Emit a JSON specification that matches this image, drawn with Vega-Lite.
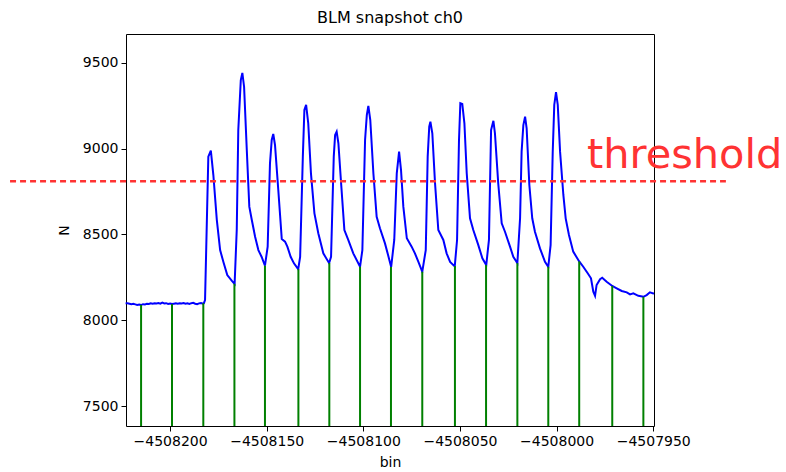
{
  "$schema": "https://vega.github.io/schema/vega-lite/v6.json",
  "width": 528,
  "height": 392,
  "autosize": {"type": "none"},
  "padding": {"left": 126, "top": 34, "right": 132, "bottom": 46},
  "background": "white",
  "title": {"text": "BLM snapshot ch0", "font": "DejaVu Sans", "fontSize": 16, "fontWeight": "normal", "color": "black", "offset": 8},
  "config": {
    "font": "DejaVu Sans",
    "view": {"stroke": "black", "strokeWidth": 1},
    "axis": {
      "domain": false,
      "grid": false,
      "labelFont": "DejaVu Sans",
      "labelFontSize": 14,
      "labelColor": "black",
      "tickColor": "black",
      "tickSize": 5,
      "tickWidth": 1,
      "labelPadding": 3,
      "titleFont": "DejaVu Sans",
      "titleFontSize": 14,
      "titleFontWeight": "normal",
      "titleColor": "black",
      "labelOverlap": false,
      "labelFlush": false
    }
  },
  "datasets": {
    "signal": [
      {"bin": -4508223, "N": 8100}, {"bin": -4508222, "N": 8099}, {"bin": -4508221, "N": 8097}, {"bin": -4508220, "N": 8094},
      {"bin": -4508219, "N": 8096}, {"bin": -4508218, "N": 8093}, {"bin": -4508217, "N": 8090}, {"bin": -4508216, "N": 8092},
      {"bin": -4508215, "N": 8089}, {"bin": -4508214, "N": 8094}, {"bin": -4508213, "N": 8093}, {"bin": -4508212, "N": 8096},
      {"bin": -4508211, "N": 8095}, {"bin": -4508210, "N": 8099}, {"bin": -4508209, "N": 8097}, {"bin": -4508208, "N": 8100},
      {"bin": -4508207, "N": 8098}, {"bin": -4508206, "N": 8101}, {"bin": -4508205, "N": 8097}, {"bin": -4508204, "N": 8103},
      {"bin": -4508203, "N": 8098}, {"bin": -4508202, "N": 8100}, {"bin": -4508201, "N": 8096}, {"bin": -4508200, "N": 8098},
      {"bin": -4508199, "N": 8095}, {"bin": -4508198, "N": 8097}, {"bin": -4508197, "N": 8099}, {"bin": -4508196, "N": 8097},
      {"bin": -4508195, "N": 8100}, {"bin": -4508194, "N": 8098}, {"bin": -4508193, "N": 8101}, {"bin": -4508192, "N": 8097},
      {"bin": -4508191, "N": 8099}, {"bin": -4508190, "N": 8096}, {"bin": -4508189, "N": 8100}, {"bin": -4508188, "N": 8102},
      {"bin": -4508187, "N": 8097}, {"bin": -4508186, "N": 8094}, {"bin": -4508185, "N": 8099}, {"bin": -4508184, "N": 8101},
      {"bin": -4508183, "N": 8097}, {"bin": -4508182.5, "N": 8100},
      {"bin": -4508181.9, "N": 8118}, {"bin": -4508180.2, "N": 8953}, {"bin": -4508178.9, "N": 8988}, {"bin": -4508177.6, "N": 8846},
      {"bin": -4508175.8, "N": 8584}, {"bin": -4508174.1, "N": 8409}, {"bin": -4508172.4, "N": 8340}, {"bin": -4508170.4, "N": 8264},
      {"bin": -4508168.1, "N": 8231}, {"bin": -4508166.6, "N": 8212},
      {"bin": -4508165.5, "N": 8526}, {"bin": -4508164.7, "N": 9108}, {"bin": -4508163.4, "N": 9399}, {"bin": -4508162.6, "N": 9440},
      {"bin": -4508161.7, "N": 9360}, {"bin": -4508160.3, "N": 8992}, {"bin": -4508159.0, "N": 8662}, {"bin": -4508157.7, "N": 8584},
      {"bin": -4508156.0, "N": 8487}, {"bin": -4508154.3, "N": 8409}, {"bin": -4508152.6, "N": 8369}, {"bin": -4508150.9, "N": 8318},
      {"bin": -4508149.5, "N": 8429}, {"bin": -4508148.3, "N": 8914}, {"bin": -4508147.4, "N": 9050}, {"bin": -4508146.6, "N": 9085},
      {"bin": -4508145.7, "N": 9021}, {"bin": -4508144.0, "N": 8759}, {"bin": -4508142.2, "N": 8473}, {"bin": -4508140.5, "N": 8458},
      {"bin": -4508139.3, "N": 8429}, {"bin": -4508137.6, "N": 8370}, {"bin": -4508135.9, "N": 8332}, {"bin": -4508133.7, "N": 8298},
      {"bin": -4508132.7, "N": 8370}, {"bin": -4508131.3, "N": 8953}, {"bin": -4508130.5, "N": 9225}, {"bin": -4508129.6, "N": 9254},
      {"bin": -4508128.5, "N": 9147}, {"bin": -4508127.1, "N": 8856}, {"bin": -4508125.3, "N": 8623}, {"bin": -4508123.3, "N": 8507},
      {"bin": -4508120.7, "N": 8390}, {"bin": -4508117.7, "N": 8333},
      {"bin": -4508116.7, "N": 8370}, {"bin": -4508115.3, "N": 8953}, {"bin": -4508114.6, "N": 9079}, {"bin": -4508113.8, "N": 9098},
      {"bin": -4508112.9, "N": 9031}, {"bin": -4508111.5, "N": 8798}, {"bin": -4508109.8, "N": 8526}, {"bin": -4508107.8, "N": 8468},
      {"bin": -4508105.2, "N": 8390}, {"bin": -4508101.7, "N": 8312},
      {"bin": -4508100.5, "N": 8409}, {"bin": -4508099.1, "N": 9050}, {"bin": -4508098.2, "N": 9195}, {"bin": -4508097.4, "N": 9248},
      {"bin": -4508096.4, "N": 9166}, {"bin": -4508094.8, "N": 8856}, {"bin": -4508093.1, "N": 8603}, {"bin": -4508091.4, "N": 8536},
      {"bin": -4508088.8, "N": 8448}, {"bin": -4508087.2, "N": 8380}, {"bin": -4508085.6, "N": 8311},
      {"bin": -4508084.0, "N": 8468}, {"bin": -4508082.7, "N": 8856}, {"bin": -4508081.5, "N": 8982}, {"bin": -4508080.5, "N": 8875},
      {"bin": -4508079.3, "N": 8662}, {"bin": -4508077.5, "N": 8478}, {"bin": -4508075.0, "N": 8429}, {"bin": -4508073.3, "N": 8390},
      {"bin": -4508071.5, "N": 8341}, {"bin": -4508069.5, "N": 8283},
      {"bin": -4508067.7, "N": 8409}, {"bin": -4508066.7, "N": 8953}, {"bin": -4508065.9, "N": 9127}, {"bin": -4508065.3, "N": 9156},
      {"bin": -4508064.3, "N": 9089}, {"bin": -4508062.9, "N": 8798}, {"bin": -4508061.2, "N": 8526}, {"bin": -4508058.6, "N": 8468},
      {"bin": -4508056.9, "N": 8390}, {"bin": -4508055.1, "N": 8340}, {"bin": -4508052.7, "N": 8314},
      {"bin": -4508051.5, "N": 8468}, {"bin": -4508050.5, "N": 9050}, {"bin": -4508049.8, "N": 9264}, {"bin": -4508048.8, "N": 9260},
      {"bin": -4508047.7, "N": 9147}, {"bin": -4508046.5, "N": 8856}, {"bin": -4508044.8, "N": 8594}, {"bin": -4508043.1, "N": 8526},
      {"bin": -4508040.5, "N": 8438}, {"bin": -4508038.4, "N": 8361}, {"bin": -4508036.4, "N": 8322},
      {"bin": -4508035.0, "N": 8468}, {"bin": -4508033.9, "N": 9108}, {"bin": -4508032.7, "N": 9162}, {"bin": -4508031.9, "N": 9089},
      {"bin": -4508030.2, "N": 8798}, {"bin": -4508028.4, "N": 8565}, {"bin": -4508026.7, "N": 8516}, {"bin": -4508024.1, "N": 8429},
      {"bin": -4508022.4, "N": 8370}, {"bin": -4508020.3, "N": 8333},
      {"bin": -4508018.9, "N": 8594}, {"bin": -4508018.1, "N": 8982}, {"bin": -4508017.2, "N": 9137}, {"bin": -4508016.3, "N": 9186},
      {"bin": -4508015.5, "N": 9118}, {"bin": -4508014.1, "N": 8788}, {"bin": -4508012.6, "N": 8594}, {"bin": -4508011.2, "N": 8516},
      {"bin": -4508008.6, "N": 8419}, {"bin": -4508006.0, "N": 8341}, {"bin": -4508004.3, "N": 8312},
      {"bin": -4508003.1, "N": 8438}, {"bin": -4508002.0, "N": 8982}, {"bin": -4508001.2, "N": 9254}, {"bin": -4508000.3, "N": 9328},
      {"bin": -4507999.4, "N": 9254}, {"bin": -4507998.2, "N": 8982}, {"bin": -4507996.5, "N": 8730}, {"bin": -4507995.3, "N": 8594},
      {"bin": -4507993.6, "N": 8497}, {"bin": -4507991.4, "N": 8400}, {"bin": -4507988.3, "N": 8343}, {"bin": -4507986.2, "N": 8312},
      {"bin": -4507983.9, "N": 8274}, {"bin": -4507982.2, "N": 8245}, {"bin": -4507981.0, "N": 8167}, {"bin": -4507980.1, "N": 8143},
      {"bin": -4507979.3, "N": 8206}, {"bin": -4507977.5, "N": 8240}, {"bin": -4507976.4, "N": 8248}, {"bin": -4507974.1, "N": 8225},
      {"bin": -4507971.2, "N": 8200}, {"bin": -4507968.9, "N": 8186}, {"bin": -4507966.3, "N": 8171}, {"bin": -4507963.7, "N": 8163},
      {"bin": -4507962.0, "N": 8151}, {"bin": -4507960.3, "N": 8157}, {"bin": -4507957.7, "N": 8143}, {"bin": -4507955.1, "N": 8137},
      {"bin": -4507953.4, "N": 8147}, {"bin": -4507951.7, "N": 8163}, {"bin": -4507950.0, "N": 8157}, {"bin": -4507949.6, "N": 8158}
    ],
    "markers": [
      {"bin": -4508215.0, "N": 8090}, {"bin": -4508199.0, "N": 8095}, {"bin": -4508182.8, "N": 8100},
      {"bin": -4508166.7, "N": 8213}, {"bin": -4508150.9, "N": 8318}, {"bin": -4508133.6, "N": 8298},
      {"bin": -4508117.6, "N": 8334}, {"bin": -4508101.7, "N": 8312}, {"bin": -4508085.7, "N": 8311},
      {"bin": -4508069.5, "N": 8283}, {"bin": -4508052.6, "N": 8316}, {"bin": -4508036.5, "N": 8322},
      {"bin": -4508020.3, "N": 8333}, {"bin": -4508004.3, "N": 8312}, {"bin": -4507988.3, "N": 8343},
      {"bin": -4507971.2, "N": 8200}, {"bin": -4507955.1, "N": 8137}
    ],
    "threshold": [
      {"label": "threshold", "N": 8810}
    ]
  },
  "layer": [
    {
      "data": {"name": "signal"},
      "mark": {"type": "line", "color": "#0000ff", "strokeWidth": 2},
      "encoding": {
        "x": {"field": "bin", "type": "quantitative",
              "scale": {"domain": [-4508222.8, -4507949.6], "nice": false, "zero": false},
              "axis": {"title": "bin", "values": [-4508200, -4508150, -4508100, -4508050, -4508000, -4507950], "format": "d", "titlePadding": 7}},
        "y": {"field": "N", "type": "quantitative",
              "scale": {"domain": [7385, 9667], "nice": false, "zero": false},
              "axis": {"title": "N", "values": [7500, 8000, 8500, 9000, 9500], "format": "d", "titlePadding": 11}}
      }
    },
    {
      "data": {"name": "markers"},
      "mark": {"type": "rule", "color": "#008000", "strokeWidth": 2},
      "encoding": {
        "x": {"field": "bin", "type": "quantitative"},
        "y": {"field": "N", "type": "quantitative"},
        "y2": {"datum": 7385}
      }
    },
    {
      "data": {"name": "threshold"},
      "mark": {"type": "rule", "color": "#ff3333", "strokeWidth": 2.5, "strokeDash": [6, 4], "clip": false},
      "encoding": {
        "x": {"datum": -4508282.8, "type": "quantitative"},
        "x2": {"datum": -4507912.4},
        "y": {"field": "N", "type": "quantitative"}
      }
    },
    {
      "data": {"name": "threshold"},
      "mark": {"type": "text", "color": "#ff3333", "font": "DejaVu Sans", "fontSize": 41.5, "align": "left", "baseline": "alphabetic", "clip": false},
      "encoding": {
        "x": {"datum": -4507984.3, "type": "quantitative"},
        "y": {"datum": 8885, "type": "quantitative"},
        "text": {"field": "label"}
      }
    }
  ]
}
